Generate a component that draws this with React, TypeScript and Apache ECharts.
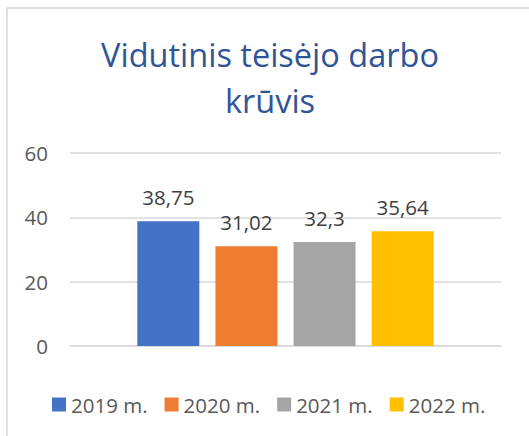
import React, { useEffect, useRef } from "react";
import * as echarts from "echarts";

const title = "Vidutinis teisėjo darbo\nkrūvis";
const seriesNames = ["2019 m.", "2020 m.", "2021 m.", "2022 m."];
const seriesValues = [38.75, 31.02, 32.3, 35.64];
const seriesColors = ["#4472C4", "#ED7D31", "#A5A5A5", "#FFC000"];
const categories = [""];
const yTicks = { min: 0, max: 60, interval: 20 };

const FONT = "'Open Sans', sans-serif";

export default function App() {
  const ref = useRef<HTMLDivElement>(null);
  useEffect(() => {
    document.body.style.margin = "0";
    const chart = echarts.init(ref.current!, null, { renderer: "svg" });
    chart.setOption({
      animation: false,
      backgroundColor: "#ffffff",
      textStyle: { fontFamily: FONT },
      title: {
        text: title,
        left: 265,
        top: 26,
        textAlign: "center",
        textStyle: {
          fontFamily: FONT,
          fontSize: 32.5,
          fontWeight: "normal",
          color: "#2F5597",
          lineHeight: 46,
        },
      },
      graphic: [
        { type: "line", shape: { x1: 7, y1: 8, x2: 529, y2: 8 }, style: { stroke: "#D9D9D9", lineWidth: 1.5 } },
        { type: "line", shape: { x1: 7, y1: 8, x2: 7, y2: 436 }, style: { stroke: "#D9D9D9", lineWidth: 1.5 } },
      ],
      legend: {
        left: 52,
        top: 394,
        padding: 0,
        itemWidth: 14,
        itemHeight: 14,
        itemGap: 17,
        icon: "rect",
        textStyle: { fontFamily: FONT, fontSize: 20.5, color: "#595959", padding: [0, 0, 0, 0] },
        data: seriesNames,
      },
      grid: { left: 70, right: 28, top: 153, bottom: 90, containLabel: false },
      xAxis: {
        type: "category",
        data: categories,
        axisLine: { lineStyle: { color: "#D9D9D9", width: 1.5 } },
        axisTick: { show: false },
        axisLabel: { show: false },
      },
      yAxis: {
        type: "value",
        min: yTicks.min,
        max: yTicks.max,
        interval: yTicks.interval,
        axisLine: { show: false },
        axisTick: { show: false },
        axisLabel: { fontFamily: FONT, fontSize: 20.5, color: "#595959", margin: 22 },
        splitLine: { lineStyle: { color: "#D9D9D9", width: 1.5 } },
      },
      series: seriesNames.map((name, i) => ({
        name,
        type: "bar",
        data: [seriesValues[i]],
        barWidth: 62,
        barGap: "26%",
        itemStyle: { color: seriesColors[i] },
        label: {
          show: true,
          position: "top",
          distance: 14,
          fontFamily: FONT,
          fontSize: 20.5,
          color: "#404040",
          formatter: (p: any) => String(p.value).replace(".", ","),
        },
      })),
    });
    return () => chart.dispose();
  }, []);
  return <div ref={ref} style={{ width: 529, height: 436 }} />;
}
